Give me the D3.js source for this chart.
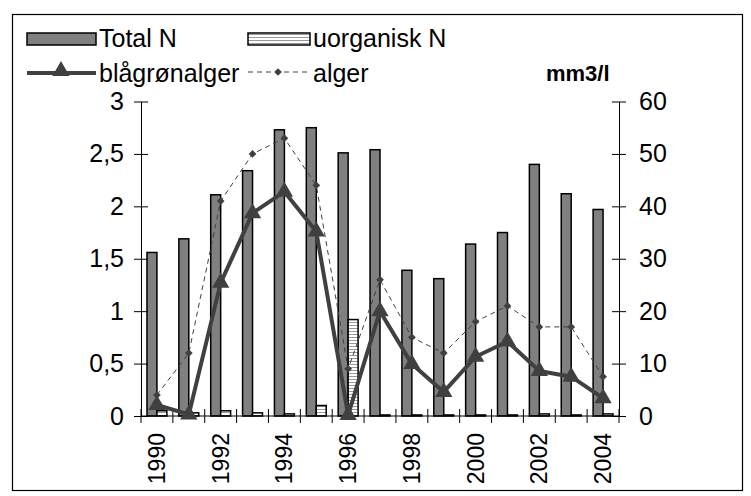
<!DOCTYPE html>
<html lang="en">
<head>
    <meta charset="UTF-8">
    <script src="https://cdnjs.cloudflare.com/ajax/libs/d3/7.8.5/d3.min.js"></script>
    <title>Total N og alger</title>
    <style>
        body { margin: 0; background: white; }
        svg { display: block; font-family: "Liberation Sans", Arial, sans-serif; }
        .axis path, .axis line { stroke: black; stroke-width: 1px; }
        .axis text { font-size: 25px; fill: black; }
        .axis text.yr { font-size: 23px; }
    </style>
</head>
<body>
    <div class="chart"></div>

    <script>
        // Data
        const years = d3.range(1990, 2005);
        const totalN = [1.56, 1.69, 2.11, 2.34, 2.73, 2.75, 2.51, 2.54, 1.39, 1.31, 1.64, 1.75, 2.40, 2.12, 1.97];
        const uorgN = [0.05, 0.03, 0.05, 0.03, 0.02, 0.10, 0.92, 0.01, 0.01, 0.01, 0.01, 0.01, 0.02, 0.01, 0.02];
        const blaagronalger = [2.1, 0.3, 25.4, 38.7, 42.8, 35.2, 0.2, 20, 9.9, 4.6, 11.3, 14.2, 8.6, 7.5, 3.4];
        const alger = [4, 12, 41, 50, 53, 44, 9, 26, 15, 12, 18, 21, 17, 17, 7.5];
        const leftTicks = [0, 0.5, 1, 1.5, 2, 2.5, 3];
        const rightTicks = [0, 10, 20, 30, 40, 50, 60];
        const yearLabels = years.filter(y => y % 2 === 0);

        const width = 751, height = 496;
        const plot = { left: 141, right: 619, top: 101.5, bottom: 416 };

        const svg = d3.select(".chart").append("svg")
            .attr("width", width)
            .attr("height", height);

        // pattern for uorganisk N (horizontal lines)
        const pat = svg.append("defs").append("pattern")
            .attr("id", "hlines")
            .attr("patternUnits", "userSpaceOnUse")
            .attr("width", 4).attr("height", 3);
        pat.append("rect").attr("width", 4).attr("height", 3).attr("fill", "white");
        pat.append("rect").attr("y", 1).attr("width", 4).attr("height", 1).attr("fill", "#9a9a9a");

        // outer frame
        svg.append("rect")
            .attr("x", 12.5).attr("y", 14.5)
            .attr("width", 730).attr("height", 476)
            .attr("fill", "none").attr("stroke", "black").attr("stroke-width", 1.2);

        // scales
        const x = d3.scaleBand().domain(years).range([plot.left, plot.right]).padding(0);
        const xSub = d3.scaleBand().domain(["total", "uorg"]).range([0, x.bandwidth()])
            .paddingInner(0).paddingOuter(0.6);
        const yL = d3.scaleLinear().domain([0, 3]).range([plot.bottom, plot.top]);
        const yR = d3.scaleLinear().domain([0, 60]).range([plot.bottom, plot.top]);

        const locale = d3.formatLocale({ decimal: ",", thousands: ".", grouping: [3], currency: ["", " kr"] });
        const fmt = locale.format("~g");

        const rows = years.map((y, i) => ({ year: y, total: totalN[i], uorg: uorgN[i], bla: blaagronalger[i], alg: alger[i] }));

        // bars
        svg.append("g").selectAll("rect")
            .data(rows)
            .join("rect")
            .attr("x", d => x(d.year) + xSub("total"))
            .attr("y", d => yL(d.total))
            .attr("width", xSub.bandwidth())
            .attr("height", d => yL(0) - yL(d.total))
            .attr("fill", "#808080")
            .attr("stroke", "black")
            .attr("stroke-width", 1.5);

        svg.append("g").selectAll("rect")
            .data(rows)
            .join("rect")
            .attr("x", d => x(d.year) + xSub("uorg"))
            .attr("y", d => yL(d.uorg))
            .attr("width", xSub.bandwidth())
            .attr("height", d => yL(0) - yL(d.uorg))
            .attr("fill", "url(#hlines)")
            .attr("stroke", "black")
            .attr("stroke-width", 1.5);

        // axes
        const leftAxis = svg.append("g").attr("class", "axis")
            .attr("transform", `translate(${plot.left},0)`)
            .call(d3.axisLeft(yL).tickValues(leftTicks).tickFormat(fmt).tickSizeInner(7).tickSizeOuter(0).tickPadding(10));
        leftAxis.selectAll(".tick line").attr("x1", 7);

        const rightAxis = svg.append("g").attr("class", "axis")
            .attr("transform", `translate(${plot.right},0)`)
            .call(d3.axisRight(yR).tickValues(rightTicks).tickSizeInner(7).tickSizeOuter(0).tickPadding(13));
        rightAxis.selectAll(".tick line").attr("x1", -7);

        // x axis: baseline, ticks at category boundaries, rotated year labels
        const xAxis = svg.append("g").attr("class", "axis");
        xAxis.append("line")
            .attr("x1", plot.left).attr("x2", plot.right)
            .attr("y1", plot.bottom).attr("y2", plot.bottom)
            .attr("stroke", "black");
        xAxis.selectAll("line.tk")
            .data(years.concat([null]))
            .join("line")
            .attr("class", "tk")
            .attr("x1", d => d === null ? plot.right : x(d))
            .attr("x2", d => d === null ? plot.right : x(d))
            .attr("y1", plot.bottom - 7).attr("y2", plot.bottom + 7)
            .attr("stroke", "black");
        xAxis.selectAll("text")
            .data(yearLabels)
            .join("text")
            .attr("class", "yr")
            .attr("transform", d => `translate(${x(d) + x.bandwidth() / 2},${plot.bottom + 17}) rotate(-90)`)
            .attr("text-anchor", "end")
            .attr("dy", "0.35em")
            .text(d => d);

        // lines
        const cx = d => x(d.year) + x.bandwidth() / 2;
        const diamond = d3.symbol(d3.symbolSquare, 30);
        const triangle = d3.symbol(d3.symbolTriangle, 130);

        svg.append("path")
            .datum(rows)
            .attr("fill", "none")
            .attr("stroke", "#404040")
            .attr("stroke-width", 1)
            .attr("stroke-dasharray", "5,4")
            .attr("d", d3.line().x(cx).y(d => yR(d.alg)));

        svg.append("g").selectAll("path")
            .data(rows)
            .join("path")
            .attr("transform", d => `translate(${cx(d)},${yR(d.alg)}) rotate(45)`)
            .attr("d", diamond)
            .attr("fill", "#404040");

        svg.append("path")
            .datum(rows)
            .attr("fill", "none")
            .attr("stroke", "#404040")
            .attr("stroke-width", 4)
            .attr("stroke-linejoin", "round")
            .attr("d", d3.line().x(cx).y(d => yR(d.bla)));

        svg.append("g").selectAll("path")
            .data(rows)
            .join("path")
            .attr("transform", d => `translate(${cx(d)},${yR(d.bla)})`)
            .attr("d", triangle)
            .attr("fill", "#404040");

        // legend
        const legend = svg.append("g").attr("font-size", 25);

        legend.append("rect")
            .attr("x", 27).attr("y", 33).attr("width", 69).attr("height", 12)
            .attr("fill", "#808080").attr("stroke", "black").attr("stroke-width", 1.5);
        legend.append("text").attr("x", 99).attr("y", 47).text("Total N");

        legend.append("rect")
            .attr("x", 248).attr("y", 33).attr("width", 62).attr("height", 12)
            .attr("fill", "url(#hlines)").attr("stroke", "black").attr("stroke-width", 1.5);
        legend.append("text").attr("x", 313).attr("y", 47).text("uorganisk N");

        legend.append("line")
            .attr("x1", 27).attr("x2", 96).attr("y1", 73).attr("y2", 73)
            .attr("stroke", "#404040").attr("stroke-width", 4);
        legend.append("path")
            .attr("transform", "translate(61,71)")
            .attr("d", triangle)
            .attr("fill", "#404040");
        legend.append("text").attr("x", 99).attr("y", 82).text("blågrønalger");

        legend.append("line")
            .attr("x1", 248).attr("x2", 308).attr("y1", 72).attr("y2", 72)
            .attr("stroke", "#404040").attr("stroke-width", 1).attr("stroke-dasharray", "5,4");
        legend.append("path")
            .attr("transform", "translate(278,72) rotate(45)")
            .attr("d", diamond)
            .attr("fill", "#404040");
        legend.append("text").attr("x", 313).attr("y", 82).text("alger");

        svg.append("text")
            .attr("x", 546).attr("y", 81)
            .attr("font-size", 22).attr("font-weight", "bold")
            .text("mm3/l");
    </script>
</body>
</html>
